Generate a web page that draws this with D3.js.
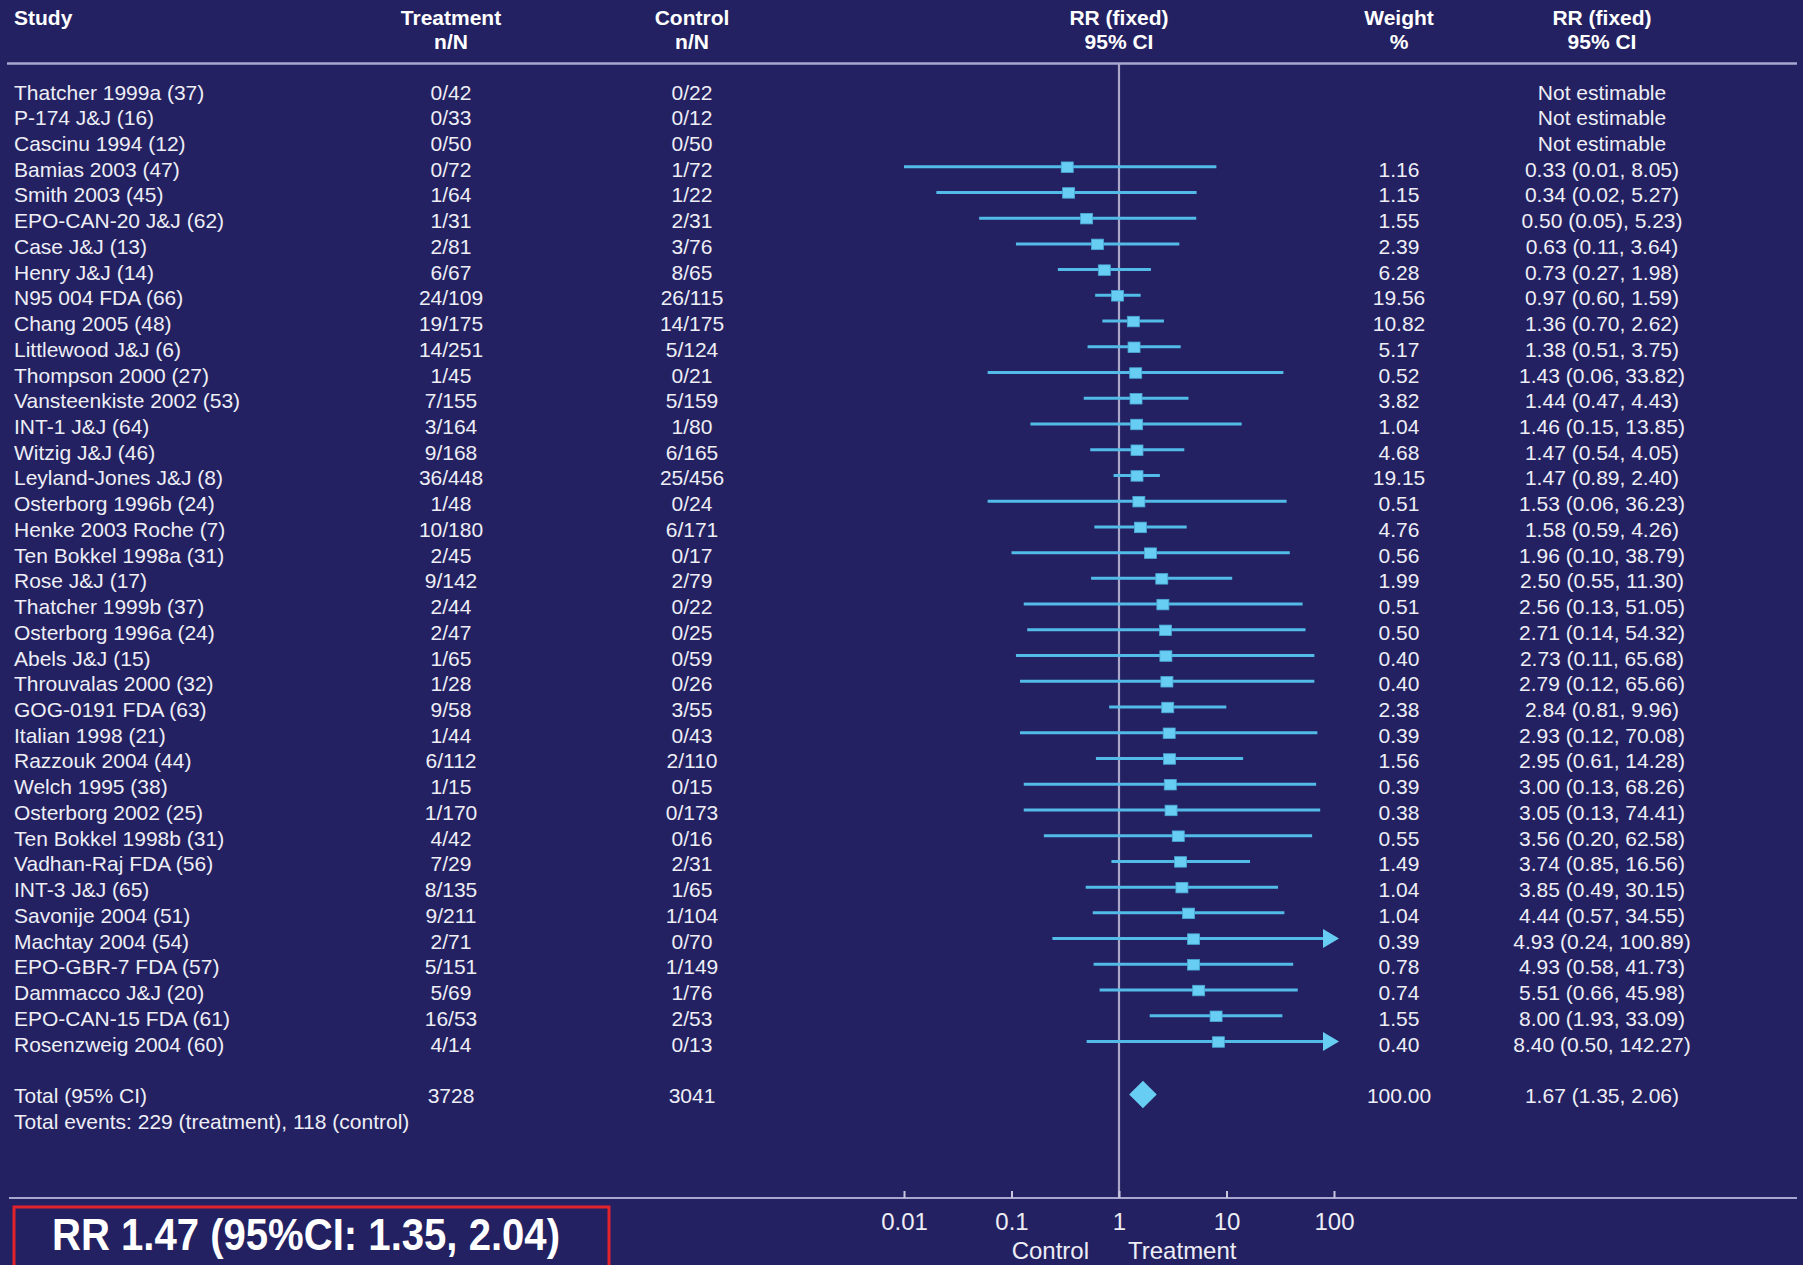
<!DOCTYPE html>
<html>
<head>
<meta charset="utf-8">
<script src="https://cdn.jsdelivr.net/npm/d3@7"></script>
<style>
  html, body { margin: 0; padding: 0; background: #232161; }
  svg { display: block; }
  text { font-family: "Liberation Sans", Arial, Helvetica, sans-serif; }
</style>
</head>
<body>
<svg id="chart" width="1803" height="1265"></svg>
<script>
// ---- Study-level data ----
const studies = [
  "Thatcher 1999a (37)", "P-174 J&J (16)", "Cascinu 1994 (12)", "Bamias 2003 (47)",
  "Smith 2003 (45)", "EPO-CAN-20 J&J (62)", "Case J&J (13)", "Henry J&J (14)",
  "N95 004 FDA (66)", "Chang 2005 (48)", "Littlewood J&J (6)", "Thompson 2000 (27)",
  "Vansteenkiste 2002 (53)", "INT-1 J&J (64)", "Witzig J&J (46)", "Leyland-Jones J&J (8)",
  "Osterborg 1996b (24)", "Henke 2003 Roche (7)", "Ten Bokkel 1998a (31)", "Rose J&J (17)",
  "Thatcher 1999b (37)", "Osterborg 1996a (24)", "Abels J&J (15)", "Throuvalas 2000 (32)",
  "GOG-0191 FDA (63)", "Italian 1998 (21)", "Razzouk 2004 (44)", "Welch 1995 (38)",
  "Osterborg 2002 (25)", "Ten Bokkel 1998b (31)", "Vadhan-Raj FDA (56)", "INT-3 J&J (65)",
  "Savonije 2004 (51)", "Machtay 2004 (54)", "EPO-GBR-7 FDA (57)", "Dammacco J&J (20)",
  "EPO-CAN-15 FDA (61)", "Rosenzweig 2004 (60)"
];

const treatmentNN = [
  "0/42", "0/33", "0/50", "0/72", "1/64", "1/31", "2/81", "6/67", "24/109", "19/175",
  "14/251", "1/45", "7/155", "3/164", "9/168", "36/448", "1/48", "10/180", "2/45", "9/142",
  "2/44", "2/47", "1/65", "1/28", "9/58", "1/44", "6/112", "1/15", "1/170", "4/42",
  "7/29", "8/135", "9/211", "2/71", "5/151", "5/69", "16/53", "4/14"
];

const controlNN = [
  "0/22", "0/12", "0/50", "1/72", "1/22", "2/31", "3/76", "8/65", "26/115", "14/175",
  "5/124", "0/21", "5/159", "1/80", "6/165", "25/456", "0/24", "6/171", "0/17", "2/79",
  "0/22", "0/25", "0/59", "0/26", "3/55", "0/43", "2/110", "0/15", "0/173", "0/16",
  "2/31", "1/65", "1/104", "0/70", "1/149", "1/76", "2/53", "0/13"
];

const weights = [
  null, null, null, 1.16, 1.15, 1.55, 2.39, 6.28, 19.56, 10.82,
  5.17, 0.52, 3.82, 1.04, 4.68, 19.15, 0.51, 4.76, 0.56, 1.99,
  0.51, 0.50, 0.40, 0.40, 2.38, 0.39, 1.56, 0.39, 0.38, 0.55,
  1.49, 1.04, 1.04, 0.39, 0.78, 0.74, 1.55, 0.40
];

const rr = [
  null, null, null, 0.33, 0.34, 0.50, 0.63, 0.73, 0.97, 1.36,
  1.38, 1.43, 1.44, 1.46, 1.47, 1.47, 1.53, 1.58, 1.96, 2.50,
  2.56, 2.71, 2.73, 2.79, 2.84, 2.93, 2.95, 3.00, 3.05, 3.56,
  3.74, 3.85, 4.44, 4.93, 4.93, 5.51, 8.00, 8.40
];

const lower = [
  null, null, null, 0.01, 0.02, 0.05, 0.11, 0.27, 0.60, 0.70,
  0.51, 0.06, 0.47, 0.15, 0.54, 0.89, 0.06, 0.59, 0.10, 0.55,
  0.13, 0.14, 0.11, 0.12, 0.81, 0.12, 0.61, 0.13, 0.13, 0.20,
  0.85, 0.49, 0.57, 0.24, 0.58, 0.66, 1.93, 0.50
];

const upper = [
  null, null, null, 8.05, 5.27, 5.23, 3.64, 1.98, 1.59, 2.62,
  3.75, 33.82, 4.43, 13.85, 4.05, 2.40, 36.23, 4.26, 38.79, 11.30,
  51.05, 54.32, 65.68, 65.66, 9.96, 70.08, 14.28, 68.26, 74.41, 62.58,
  16.56, 30.15, 34.55, 100.89, 41.73, 45.98, 33.09, 142.27
];

// Printed effect column (as published, including its original punctuation)
const effectLabels = [
  "Not estimable", "Not estimable", "Not estimable",
  "0.33 (0.01, 8.05)", "0.34 (0.02, 5.27)", "0.50 (0.05), 5.23)", "0.63 (0.11, 3.64)",
  "0.73 (0.27, 1.98)", "0.97 (0.60, 1.59)", "1.36 (0.70, 2.62)", "1.38 (0.51, 3.75)",
  "1.43 (0.06, 33.82)", "1.44 (0.47, 4.43)", "1.46 (0.15, 13.85)", "1.47 (0.54, 4.05)",
  "1.47 (0.89, 2.40)", "1.53 (0.06, 36.23)", "1.58 (0.59, 4.26)", "1.96 (0.10, 38.79)",
  "2.50 (0.55, 11.30)", "2.56 (0.13, 51.05)", "2.71 (0.14, 54.32)", "2.73 (0.11, 65.68)",
  "2.79 (0.12, 65.66)", "2.84 (0.81, 9.96)", "2.93 (0.12, 70.08)", "2.95 (0.61, 14.28)",
  "3.00 (0.13, 68.26)", "3.05 (0.13, 74.41)", "3.56 (0.20, 62.58)", "3.74 (0.85, 16.56)",
  "3.85 (0.49, 30.15)", "4.44 (0.57, 34.55)", "4.93 (0.24, 100.89)", "4.93 (0.58, 41.73)",
  "5.51 (0.66, 45.98)", "8.00 (1.93, 33.09)", "8.40 (0.50, 142.27)"
];

// ---- Pooled result ----
const totalLabel = "Total (95% CI)";
const totalTreatment = "3728";
const totalControl = "3041";
const totalWeight = 100.00;
const totalRR = 1.67;
const totalLower = 1.35;
const totalUpper = 2.06;
const totalEventsLabel = "Total events: 229 (treatment), 118 (control)";
const summaryLabel = "RR 1.47 (95%CI: 1.35, 2.04)";

// ---- Axis ----
const axisTicks = [0.01, 0.1, 1, 10, 100];
const axisTickLabels = ["0.01", "0.1", "1", "10", "100"];
const favoursLeft = "Control";
const favoursRight = "Treatment";

// ---- Styling ----
const BG = "#232161";
const TEXT = "#eeeef6";
const RULE = "#a9a7d0";
const CI_LINE = "#52bbe8";
const MARKER = "#68cdf3";

const svg = d3.select("#chart");
svg.append("rect").attr("width", 1803).attr("height", 1265).attr("fill", BG);

const x = d3.scaleLog().domain([0.01, 100]).range([904, 1334]);
const rowY = d3.scaleLinear().domain([0, 1]).range([92, 92 + 25.73]);

const col = { study: 14, treat: 451, ctrl: 692, weight: 1399, effect: 1602 };
const FS = 21;

// Header
const head = svg.append("g").attr("fill", "#ffffff").attr("font-weight", "bold")
  .attr("font-size", 21);
const headRows = [
  { x: col.study, anchor: "start", lines: ["Study"] },
  { x: col.treat, anchor: "middle", lines: ["Treatment", "n/N"] },
  { x: col.ctrl, anchor: "middle", lines: ["Control", "n/N"] },
  { x: x(1), anchor: "middle", lines: ["RR (fixed)", "95% CI"] },
  { x: col.weight, anchor: "middle", lines: ["Weight", "%"] },
  { x: col.effect, anchor: "middle", lines: ["RR (fixed)", "95% CI"] }
];
headRows.forEach(h => {
  h.lines.forEach((t, i) => {
    head.append("text").attr("x", h.x).attr("y", 25 + i * 23.5)
      .attr("text-anchor", h.anchor).text(t);
  });
});

// Rule under header
svg.append("line").attr("x1", 7).attr("x2", 1797).attr("y1", 63.5).attr("y2", 63.5)
  .attr("stroke", RULE).attr("stroke-width", 2.6);

// Line of no effect
svg.append("line").attr("x1", x(1)).attr("x2", x(1)).attr("y1", 64).attr("y2", 1198)
  .attr("stroke", "#aba7c9").attr("stroke-width", 2.2);

// Study rows: text columns
const rows = svg.append("g").attr("fill", TEXT).attr("font-size", FS);
const idx = d3.range(studies.length);
const baseOff = 7.5;

rows.selectAll("text.study").data(idx).join("text").attr("class", "study")
  .attr("x", col.study).attr("y", i => rowY(i) + baseOff).text(i => studies[i]);
rows.selectAll("text.treat").data(idx).join("text").attr("class", "treat")
  .attr("x", col.treat).attr("y", i => rowY(i) + baseOff).attr("text-anchor", "middle")
  .text(i => treatmentNN[i]);
rows.selectAll("text.ctrl").data(idx).join("text").attr("class", "ctrl")
  .attr("x", col.ctrl).attr("y", i => rowY(i) + baseOff).attr("text-anchor", "middle")
  .text(i => controlNN[i]);
rows.selectAll("text.weight").data(idx.filter(i => weights[i] != null)).join("text")
  .attr("class", "weight")
  .attr("x", col.weight).attr("y", i => rowY(i) + baseOff).attr("text-anchor", "middle")
  .text(i => weights[i].toFixed(2));
rows.selectAll("text.effect").data(idx).join("text").attr("class", "effect")
  .attr("x", col.effect).attr("y", i => rowY(i) + baseOff).attr("text-anchor", "middle")
  .text(i => effectLabels[i]);

// Forest marks
const est = idx.filter(i => rr[i] != null);
const xMax = x(100);
const plot = svg.append("g");
const my = i => rowY(i) - 2.5;

plot.selectAll("line.ci").data(est).join("line").attr("class", "ci")
  .attr("x1", i => x(lower[i]))
  .attr("x2", i => upper[i] > 100 ? xMax - 8 : x(upper[i]))
  .attr("y1", my).attr("y2", my)
  .attr("stroke", CI_LINE).attr("stroke-width", 3);

// Arrow heads for intervals running off the right edge of the scale
plot.selectAll("path.arrow").data(est.filter(i => upper[i] > 100)).join("path")
  .attr("class", "arrow")
  .attr("d", i => {
    const y = my(i), b = xMax - 11, t = xMax + 5;
    return `M${b},${y - 9.5}L${t},${y}L${b},${y + 9.5}Z`;
  })
  .attr("fill", MARKER);

const SQ_W = 12, SQ_H = 10.5;
plot.selectAll("rect.pt").data(est).join("rect").attr("class", "pt")
  .attr("x", i => x(rr[i]) - SQ_W / 2)
  .attr("y", i => my(i) - SQ_H / 2 + 0.5)
  .attr("width", SQ_W).attr("height", SQ_H)
  .attr("fill", MARKER).attr("stroke", "#4aa9d6").attr("stroke-width", 0.8);

// Pooled row
const totalRow = studies.length + 1;
const ty = rowY(totalRow);
rows.append("text").attr("x", col.study).attr("y", ty + baseOff).text(totalLabel);
rows.append("text").attr("x", col.treat).attr("y", ty + baseOff).attr("text-anchor", "middle").text(totalTreatment);
rows.append("text").attr("x", col.ctrl).attr("y", ty + baseOff).attr("text-anchor", "middle").text(totalControl);
rows.append("text").attr("x", col.weight).attr("y", ty + baseOff).attr("text-anchor", "middle").text(totalWeight.toFixed(2));
rows.append("text").attr("x", col.effect).attr("y", ty + baseOff).attr("text-anchor", "middle")
  .text(`${totalRR.toFixed(2)} (${totalLower.toFixed(2)}, ${totalUpper.toFixed(2)})`);
rows.append("text").attr("x", col.study).attr("y", rowY(totalRow + 1) + baseOff).text(totalEventsLabel);

// Pooled diamond
const dx = x(totalRR), dy = ty - 1, dh = 13.8;
plot.append("path")
  .attr("d", `M${dx - dh},${dy}L${dx},${dy - dh}L${dx + dh},${dy}L${dx},${dy + dh}Z`)
  .attr("fill", MARKER);

// Bottom axis
const axisY = 1198;
svg.append("line").attr("x1", 9).attr("x2", 1797).attr("y1", axisY).attr("y2", axisY)
  .attr("stroke", RULE).attr("stroke-width", 2);

const axis = d3.axisBottom(x).tickValues(axisTicks)
  .tickFormat((d, i) => axisTickLabels[i])
  .tickSizeInner(-7).tickSizeOuter(0).tickPadding(15);
const ax = svg.append("g").attr("transform", `translate(0,${axisY})`).call(axis);
ax.select(".domain").remove();
ax.selectAll(".tick line").attr("stroke", "#c9c7e0").attr("stroke-width", 2);
ax.selectAll(".tick text").attr("fill", TEXT).attr("font-size", 24)
  .attr("font-family", "'Liberation Sans', Arial, sans-serif");

svg.append("text").attr("x", 1089).attr("y", 1259).attr("text-anchor", "end")
  .attr("fill", TEXT).attr("font-size", 24).text(favoursLeft);
svg.append("text").attr("x", 1128).attr("y", 1259).attr("text-anchor", "start")
  .attr("fill", TEXT).attr("font-size", 24).text(favoursRight);

// Highlighted summary box
svg.append("rect").attr("x", 14).attr("y", 1207).attr("width", 595).attr("height", 90)
  .attr("fill", "none").attr("stroke", "#e3232c").attr("stroke-width", 3);
svg.append("text").attr("x", 52).attr("y", 1250)
  .attr("fill", "#ffffff").attr("font-weight", "bold").attr("font-size", 44)
  .attr("textLength", 508).attr("lengthAdjust", "spacingAndGlyphs")
  .text(summaryLabel);
</script>
</body>
</html>
